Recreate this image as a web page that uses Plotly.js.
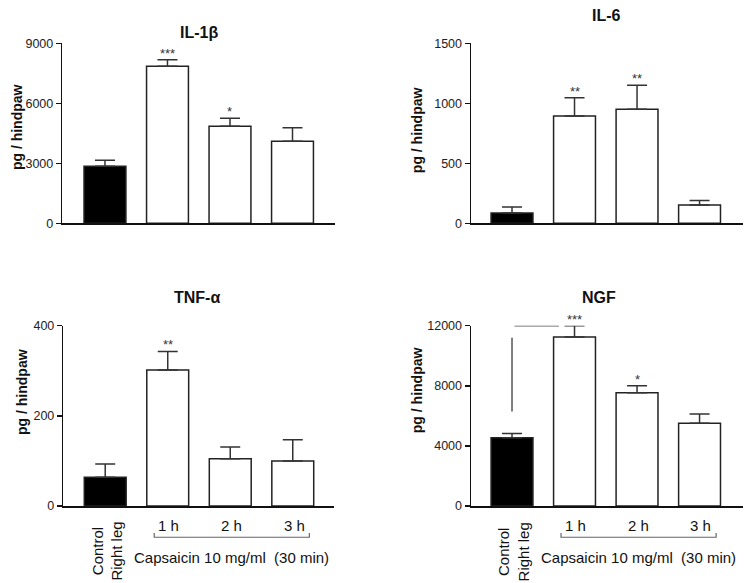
<!DOCTYPE html>
<html>
<head>
<meta charset="utf-8">
<script src="https://cdn.plot.ly/plotly-3.0.1.min.js"></script>
<style>html,body{margin:0;padding:0;background:#fff;}#chart{width:753px;height:583px;}</style>
</head>
<body>
<div id="chart"></div>
<script>
// ---- data ----
var groups = [0, 1, 2, 3];
var xTickLabels = ["Control<br>Right leg", "1 h", "2 h", "3 h"];
var treatmentLabel = "Capsaicin 10 mg/ml  (30 min)";
var panelTitles = ["IL-1\u03b2", "IL-6", "TNF-\u03b1", "NGF"];
var yAxisLabel = "pg / hindpaw";

var il1bMean = [2850, 7850, 4850, 4100];
var il1bSem  = [300, 330, 400, 680];
var il1bStars = ["", "***", "*", ""];
var il1bTicks = [0, 3000, 6000, 9000];

var il6Mean = [85, 895, 950, 152];
var il6Sem  = [50, 152, 200, 37];
var il6Stars = ["", "**", "**", ""];
var il6Ticks = [0, 500, 1000, 1500];

var tnfMean = [64, 302, 105, 100];
var tnfSem  = [29, 41, 26, 47];
var tnfStars = ["", "**", "", ""];
var tnfTicks = [0, 200, 400];

var ngfMean = [4550, 11250, 7530, 5500];
var ngfSem  = [270, 750, 470, 620];
var ngfStars = ["", "***", "*", ""];
var ngfTicks = [0, 4000, 8000, 12000];
// comparison line in NGF panel (control vs 1 h)
var ngfCompareVert = [6290, 11200];
var ngfCompareHorizY = 12000;

var noMinus = [0, 0, 0, 0];
var barColors = ["#000000", "#ffffff", "#ffffff", "#ffffff"];

// ---- panels ----
var panels = [
  {mean: il1bMean, sem: il1bSem, stars: il1bStars, ticks: il1bTicks, xa: 'x',  ya: 'y'},
  {mean: il6Mean,  sem: il6Sem,  stars: il6Stars,  ticks: il6Ticks,  xa: 'x2', ya: 'y2'},
  {mean: tnfMean,  sem: tnfSem,  stars: tnfStars,  ticks: tnfTicks,  xa: 'x3', ya: 'y3'},
  {mean: ngfMean,  sem: ngfSem,  stars: ngfStars,  ticks: ngfTicks,  xa: 'x4', ya: 'y4'}
];

var FONT = "Liberation Sans, Arial, sans-serif";
var traces = [];
var annotations = [];

panels.forEach(function (p, i) {
  traces.push({
    type: 'bar', x: groups, y: p.mean, xaxis: p.xa, yaxis: p.ya,
    width: 0.67,
    marker: {color: barColors, line: {color: '#222', width: 1.5}},
    error_y: {type: 'data', symmetric: false, array: p.sem, arrayminus: noMinus,
              color: '#333', thickness: 1.5, width: 10},
    hoverinfo: 'y', showlegend: false
  });
  p.stars.forEach(function (s, k) {
    if (!s) return;
    annotations.push({
      xref: p.xa, yref: p.ya, x: groups[k], y: p.mean[k] + p.sem[k],
      text: s, showarrow: false, yanchor: 'bottom', yshift: -3,
      font: {family: FONT, size: 13, color: '#333'}
    });
  });
});

// titles
var titlePos = [[0.2638, 0.945], [0.806, 0.9726], [0.2617, 0.4889], [0.7955, 0.4889]];
panelTitles.forEach(function (t, i) {
  annotations.push({xref: 'paper', yref: 'paper', x: titlePos[i][0], y: titlePos[i][1],
    text: '<b>' + t + '</b>', showarrow: false, xanchor: 'center', yanchor: 'middle',
    font: {family: FONT, size: 16, color: '#111'}});
});

// y-axis labels
var ylabPos = [[0.0226, 0.782], [0.554, 0.777], [0.0295, 0.328], [0.554, 0.331]];
ylabPos.forEach(function (pos) {
  annotations.push({xref: 'paper', yref: 'paper', x: pos[0], y: pos[1],
    text: '<b>' + yAxisLabel + '</b>', showarrow: false, textangle: -90,
    xanchor: 'center', yanchor: 'middle',
    font: {family: FONT, size: 14, color: '#111'}});
});

// bottom x labels
['x3', 'x4'].forEach(function (xa) {
  annotations.push({xref: xa, yref: 'paper', x: groups[0] + 0.03, y: 0.108,
    text: xTickLabels[0], showarrow: false, textangle: -90,
    xanchor: 'center', yanchor: 'top', align: 'center',
    font: {family: FONT, size: 15, color: '#111'}});
  for (var k = 1; k < 4; k++) {
    annotations.push({xref: xa, yref: 'paper', x: groups[k] + 0.02, y: 0.098,
      text: xTickLabels[k], showarrow: false, xanchor: 'center', yanchor: 'middle',
      font: {family: FONT, size: 15, color: '#111'}});
  }
  annotations.push({xref: xa, yref: 'paper', x: 2.02, y: 0.0429,
    text: treatmentLabel, showarrow: false, xanchor: 'center', yanchor: 'middle',
    font: {family: FONT, size: 15, color: '#111'}});
});

var shapes = [];
['x3', 'x4'].forEach(function (xa) {
  shapes.push({type: 'path', xref: xa, yref: 'paper',
    path: 'M 0.784,0.0858 L 0.784,0.0785 L 3.265,0.0785 L 3.265,0.0858',
    line: {color: '#666', width: 1.2}});
});
shapes.push({type: 'line', xref: 'x4', yref: 'y4', x0: groups[0], x1: groups[0],
  y0: ngfCompareVert[0], y1: ngfCompareVert[1], line: {color: '#555', width: 1.5}});
shapes.push({type: 'line', xref: 'x4', yref: 'y4', x0: groups[0] + 0.04, x1: groups[1] - 0.25,
  y0: ngfCompareHorizY, y1: ngfCompareHorizY, line: {color: '#555', width: 1.5}});

function xAxis(domain, range, anchor) {
  return {domain: domain, range: range, anchor: anchor, showline: true, linecolor: '#111',
    linewidth: 2, showticklabels: false, ticks: '', showgrid: false, zeroline: false, fixedrange: true};
}
function yAxis(domain, ticks, anchor) {
  return {domain: domain, range: [0, ticks[ticks.length - 1]], anchor: anchor, tickmode: 'array',
    tickvals: ticks, ticktext: ticks.map(String), ticks: 'outside', ticklen: 5, tickwidth: 1.5,
    tickcolor: '#111', showline: true, linecolor: '#111', linewidth: 1.5, showgrid: false,
    zeroline: false, fixedrange: true, tickfont: {family: FONT, size: 12.5, color: '#222'}};
}

var layout = {
  width: 753, height: 583, margin: {l: 0, r: 0, t: 0, b: 0},
  paper_bgcolor: '#fff', plot_bgcolor: '#fff', showlegend: false,
  font: {family: FONT},
  xaxis:  xAxis([0.0827, 0.4449], [-0.683, 3.68], 'y'),
  yaxis:  yAxis([0.617, 0.9257], il1bTicks, 'x'),
  xaxis2: xAxis([0.6255, 0.9863], [-0.656, 3.69], 'y2'),
  yaxis2: yAxis([0.617, 0.9257], il6Ticks, 'x2'),
  xaxis3: xAxis([0.0841, 0.4436], [-0.67, 3.66], 'y3'),
  yaxis3: yAxis([0.1321, 0.4413], tnfTicks, 'x3'),
  xaxis4: xAxis([0.6255, 0.9863], [-0.656, 3.69], 'y4'),
  yaxis4: yAxis([0.1321, 0.4413], ngfTicks, 'x4'),
  annotations: annotations,
  shapes: shapes
};

Plotly.newPlot('chart', traces, layout, {displayModeBar: false, staticPlot: true});
</script>
</body>
</html>
